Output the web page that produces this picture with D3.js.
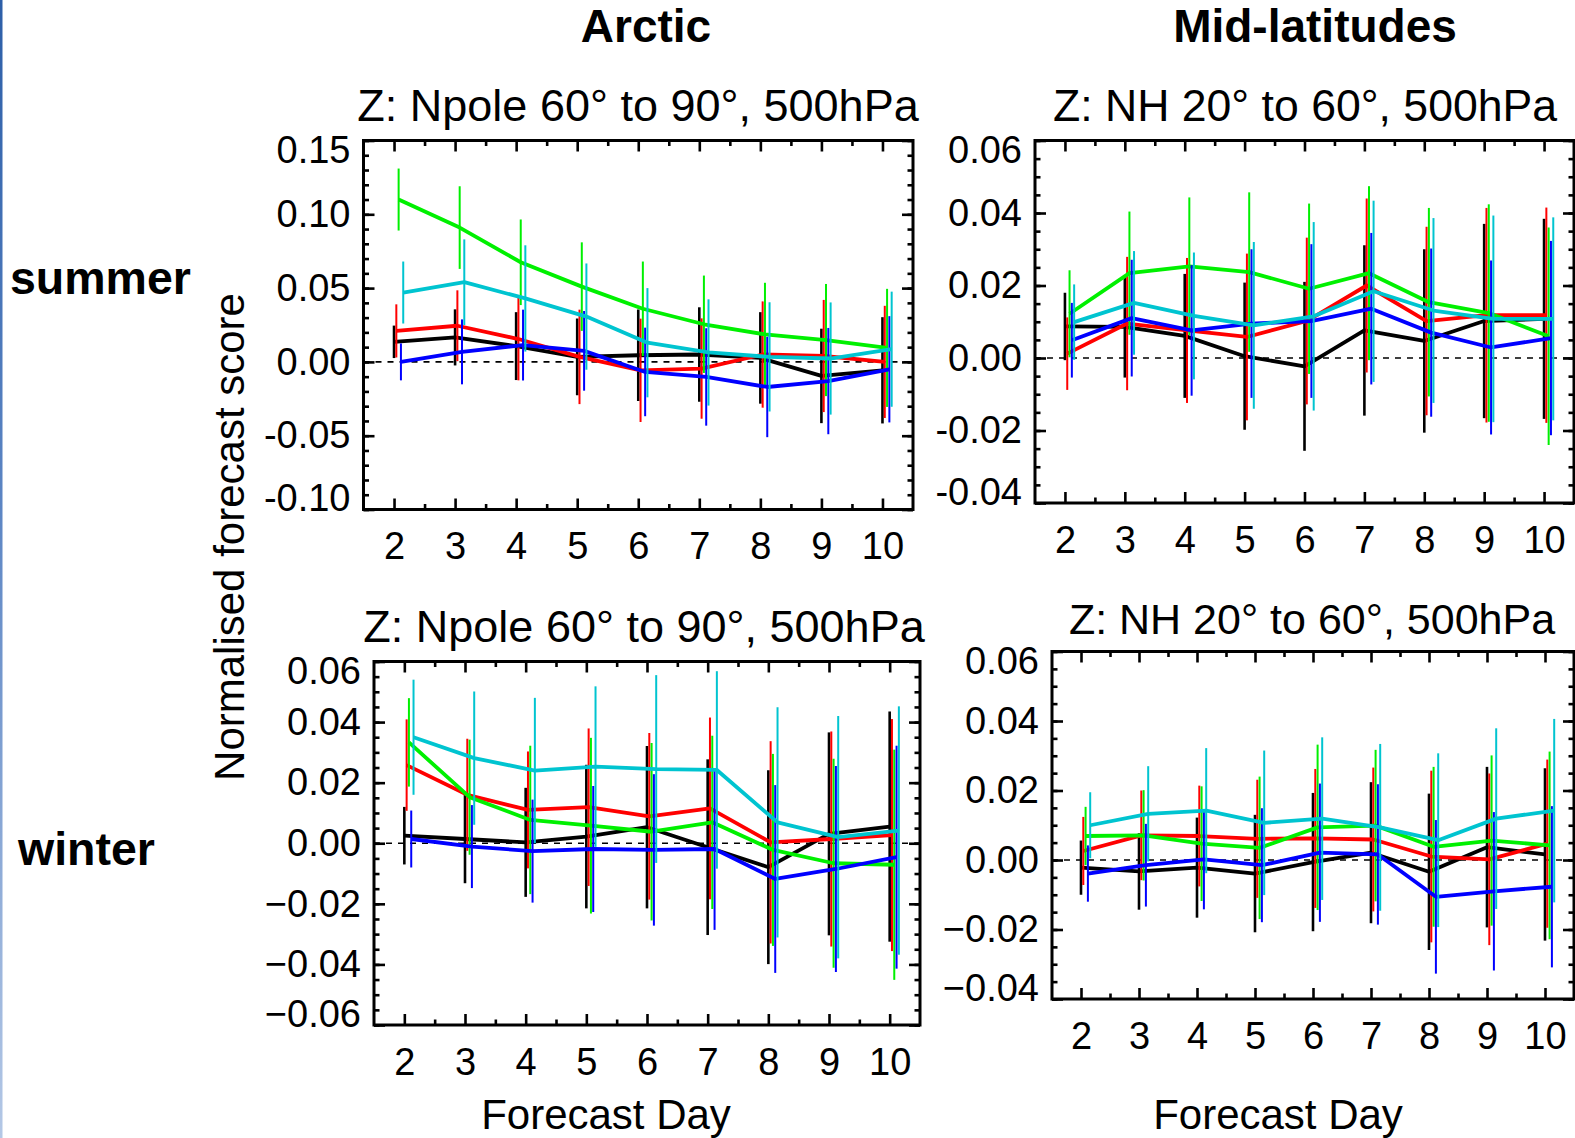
<!DOCTYPE html>
<html>
<head>
<meta charset="utf-8">
<script src="https://cdn.jsdelivr.net/npm/d3@7"></script>
<style>
  body { margin: 0; background: #fff; }
  svg { display: block; }
  text { font-family: 'Liberation Sans', Arial, Helvetica, sans-serif; fill: #000; }
</style>
</head>
<body>
<script>
var width = 1575,
    height = 1138;

// forecast days on the x axis
var days = [2, 3, 4, 5, 6, 7, 8, 9, 10];
var seriesColors = ['#000000', '#ff0000', '#00f000', '#0000ff', '#00c4d0'];

// rows: black, red, green, blue, cyan
var arcSumMean = [
    [0.0136, 0.0166, 0.0107, 0.0034, 0.0045, 0.0050, 0.0027, -0.0095, -0.0057],
    [0.0210, 0.0245, 0.0155, 0.0034, -0.0057, -0.0045, 0.0050, 0.0040, 0.0000],
    [0.1100, 0.0910, 0.0675, 0.0510, 0.0360, 0.0255, 0.0186, 0.0148, 0.0095],
    [0.0000, 0.0068, 0.0114, 0.0075, -0.0068, -0.0102, -0.0170, -0.0130, -0.0050],
    [0.0470, 0.0540, 0.0430, 0.0307, 0.0130, 0.0064, 0.0034, 0.0023, 0.0086]
];
var arcSumErr = [
    [0.011, 0.019, 0.023, 0.026, 0.031, 0.032, 0.031, 0.032, 0.036],
    [0.018, 0.024, 0.028, 0.032, 0.035, 0.034, 0.036, 0.038, 0.038],
    [0.021, 0.028, 0.029, 0.030, 0.032, 0.033, 0.035, 0.038, 0.040],
    [0.0125, 0.022, 0.024, 0.027, 0.030, 0.033, 0.034, 0.036, 0.036],
    [0.021, 0.029, 0.036, 0.036, 0.037, 0.036, 0.037, 0.038, 0.039]
];

var midSumMean = [
    [0.0087, 0.0086, 0.0061, 0.0005, -0.0023, 0.0076, 0.0047, 0.0102, 0.0108],
    [0.0012, 0.0095, 0.0076, 0.0058, 0.0102, 0.0200, 0.0102, 0.0118, 0.0118],
    [0.0122, 0.0234, 0.0253, 0.0237, 0.0191, 0.0234, 0.0154, 0.0124, 0.0060],
    [0.0049, 0.0110, 0.0076, 0.0095, 0.0102, 0.0136, 0.0070, 0.0029, 0.0055],
    [0.0099, 0.0152, 0.0116, 0.0090, 0.0115, 0.0184, 0.0131, 0.0108, 0.0108]
];
var midSumErr = [
    [0.0093, 0.0140, 0.0171, 0.0203, 0.0233, 0.0235, 0.0253, 0.0268, 0.0276],
    [0.0100, 0.0184, 0.0200, 0.0230, 0.0230, 0.0240, 0.0260, 0.0296, 0.0297],
    [0.0120, 0.0170, 0.0190, 0.0220, 0.0235, 0.0240, 0.0260, 0.0300, 0.0300],
    [0.0103, 0.0161, 0.0180, 0.0205, 0.0212, 0.0209, 0.0232, 0.0240, 0.0268],
    [0.0104, 0.0143, 0.0175, 0.0230, 0.0260, 0.0250, 0.0255, 0.0285, 0.0280]
];

var arcWinMean = [
    [0.0025, 0.0014, 0.0003, 0.0022, 0.0053, -0.0013, -0.0079, 0.0031, 0.0055],
    [0.0258, 0.0160, 0.0110, 0.0119, 0.0089, 0.0115, 0.0003, 0.0014, 0.0027],
    [0.0333, 0.0152, 0.0077, 0.0058, 0.0038, 0.0069, -0.0022, -0.0066, -0.0071],
    [0.0014, -0.0011, -0.0026, -0.0019, -0.0022, -0.0019, -0.0118, -0.0085, -0.0046],
    [0.0350, 0.0281, 0.0240, 0.0253, 0.0245, 0.0242, 0.0069, 0.0020, 0.0042]
];
var arcWinErr = [
    [0.0095, 0.0146, 0.0180, 0.0237, 0.0268, 0.0290, 0.0320, 0.0335, 0.0380],
    [0.0151, 0.0185, 0.0193, 0.0260, 0.0275, 0.0300, 0.0334, 0.0355, 0.0383],
    [0.0146, 0.0190, 0.0245, 0.0290, 0.0293, 0.0286, 0.0317, 0.0345, 0.0380],
    [0.0094, 0.0137, 0.0170, 0.0208, 0.0250, 0.0267, 0.0310, 0.0340, 0.0368],
    [0.0190, 0.0220, 0.0240, 0.0265, 0.0310, 0.0326, 0.0380, 0.0400, 0.0410]
];

var midWinMean = [
    [-0.0022, -0.0033, -0.0022, -0.0039, -0.0006, 0.0021, -0.0034, 0.0037, 0.0016],
    [0.0026, 0.0071, 0.0069, 0.0061, 0.0062, 0.0059, 0.0010, 0.0002, 0.0047],
    [0.0069, 0.0071, 0.0047, 0.0035, 0.0094, 0.0099, 0.0038, 0.0056, 0.0042],
    [-0.0039, -0.0015, 0.0002, -0.0015, 0.0021, 0.0016, -0.0106, -0.0090, -0.0077],
    [0.0100, 0.0133, 0.0142, 0.0107, 0.0119, 0.0094, 0.0057, 0.0119, 0.0142]
];
var midWinErr = [
    [0.0078, 0.0110, 0.0144, 0.0169, 0.0199, 0.0203, 0.0225, 0.0231, 0.0248],
    [0.0098, 0.0129, 0.0145, 0.0170, 0.0200, 0.0207, 0.0247, 0.0247, 0.0242],
    [0.0084, 0.0130, 0.0165, 0.0205, 0.0238, 0.0218, 0.0230, 0.0245, 0.0270],
    [0.0081, 0.0119, 0.0144, 0.0164, 0.0199, 0.0202, 0.0221, 0.0228, 0.0232],
    [0.0095, 0.0137, 0.0180, 0.0208, 0.0234, 0.0240, 0.0250, 0.0260, 0.0264]
];

var arcSumTicks = [-0.10, -0.05, 0.00, 0.05, 0.10, 0.15];
var midSumTicks = [-0.04, -0.02, 0.00, 0.02, 0.04, 0.06];
var arcWinTicks = [-0.06, -0.04, -0.02, 0.00, 0.02, 0.04, 0.06];
var midWinTicks = [-0.04, -0.02, 0.00, 0.02, 0.04, 0.06];

var panels = [
    {mean: arcSumMean, err: arcSumErr, ticks: arcSumTicks, minor: 0.01, minus: '-',
     box: [363.5, 140.5, 913, 509.5], title: 'Z: Npole 60\u00b0 to 90\u00b0, 500hPa', tx: 638, ty: 121, ts: 45},
    {mean: midSumMean, err: midSumErr, ticks: midSumTicks, minor: 0.005, minus: '-',
     box: [1035, 140.5, 1574, 503], title: 'Z: NH 20\u00b0 to 60\u00b0, 500hPa', tx: 1305, ty: 121, ts: 44.6},
    {mean: arcWinMean, err: arcWinErr, ticks: arcWinTicks, minor: 0.005, minus: '\u2212',
     box: [374, 661.5, 920, 1025], title: 'Z: Npole 60\u00b0 to 90\u00b0, 500hPa', tx: 644, ty: 642, ts: 45},
    {mean: midWinMean, err: midWinErr, ticks: midWinTicks, minor: 0.005, minus: '\u2212',
     box: [1052, 651.5, 1574, 999], title: 'Z: NH 20\u00b0 to 60\u00b0, 500hPa', tx: 1312, ty: 634, ts: 43}
];

var svg = d3.select('body').append('svg')
    .attr('width', width)
    .attr('height', height);

svg.append('rect').attr('width', width).attr('height', height).attr('fill', '#fff');

// thin blue strip at the left edge of the original slide
var grad = svg.append('defs').append('linearGradient')
    .attr('id', 'edge').attr('x1', 0).attr('y1', 0).attr('x2', 0).attr('y2', 1);
grad.append('stop').attr('offset', '0').attr('stop-color', '#2d5fa8');
grad.append('stop').attr('offset', '0.45').attr('stop-color', '#5d86c4');
grad.append('stop').attr('offset', '1').attr('stop-color', '#b4c8e6');
svg.append('rect').attr('x', 0).attr('y', 0).attr('width', 2.5).attr('height', height)
    .attr('fill', 'url(#edge)');

panels.forEach(function(p) {
    var left = p.box[0], top = p.box[1], right = p.box[2], bottom = p.box[3];
    var lo = d3.min(p.ticks), hi = d3.max(p.ticks);

    var x = d3.scaleLinear().domain([1.5, 10.5]).range([left, right]);
    var y = d3.scaleLinear().domain([lo, hi]).range([bottom, top]);

    var fmt = function(d) {
        var s = d3.format('.2f')(Math.abs(d));
        return d < -1e-9 ? p.minus + s : s;
    };
    var minorTicks = d3.range(Math.round((hi - lo) / p.minor) + 1).map(function(i) { return lo + i * p.minor; });
    var minorDays = d3.range(2.5, 10, 1);

    var g = svg.append('g');

    // zero line
    g.append('line')
        .attr('x1', left).attr('x2', right)
        .attr('y1', y(0)).attr('y2', y(0))
        .attr('stroke', '#000').attr('stroke-width', 1.6)
        .attr('stroke-dasharray', '6,6');

    // error bars and lines, series by series
    p.mean.forEach(function(row, s) {
        var off = s * 2.3;
        g.append('g').selectAll('line')
            .data(row)
            .enter().append('line')
            .attr('x1', function(d, i) { return x(days[i]) + off; })
            .attr('x2', function(d, i) { return x(days[i]) + off; })
            .attr('y1', function(d, i) { return y(d - p.err[s][i]); })
            .attr('y2', function(d, i) { return y(d + p.err[s][i]); })
            .attr('stroke', seriesColors[s])
            .attr('stroke-width', s === 0 ? 2.6 : 2);

        g.append('path')
            .datum(row)
            .attr('d', d3.line()
                .x(function(d, i) { return x(days[i]) + off; })
                .y(function(d) { return y(d); }))
            .attr('fill', 'none')
            .attr('stroke', seriesColors[s])
            .attr('stroke-width', 3.8)
            .attr('stroke-linejoin', 'round');
    });

    // axes: major and minor ticks on all four sides, pointing inward
    function styleAxis(a) {
        a.select('.domain').remove();
        a.selectAll('.tick line').attr('stroke', '#000').attr('stroke-width', 2.6);
        a.attr('font-family', null).attr('font-size', null);
    }

    var yl = g.append('g').attr('transform', 'translate(' + left + ',0)')
        .call(d3.axisLeft(y).tickValues(p.ticks).tickSize(-11).tickPadding(13).tickFormat(fmt));
    styleAxis(yl);
    yl.selectAll('.tick text')
        .style('font-size', '38px')
        .attr('transform', function(d) {
            if (d === hi) return 'translate(0,10)';
            if (d === lo) return 'translate(0,-11)';
            return null;
        });
    styleAxis(g.append('g').attr('transform', 'translate(' + left + ',0)')
        .call(d3.axisLeft(y).tickValues(minorTicks).tickSize(-5.5).tickFormat('')));
    styleAxis(g.append('g').attr('transform', 'translate(' + right + ',0)')
        .call(d3.axisRight(y).tickValues(p.ticks).tickSize(-11).tickFormat('')));
    styleAxis(g.append('g').attr('transform', 'translate(' + right + ',0)')
        .call(d3.axisRight(y).tickValues(minorTicks).tickSize(-5.5).tickFormat('')));

    var xb = g.append('g').attr('transform', 'translate(0,' + bottom + ')')
        .call(d3.axisBottom(x).tickValues(days).tickSize(-11).tickPadding(23).tickFormat(d3.format('d')));
    styleAxis(xb);
    xb.selectAll('.tick text').style('font-size', '38px');
    styleAxis(g.append('g').attr('transform', 'translate(0,' + bottom + ')')
        .call(d3.axisBottom(x).tickValues(minorDays).tickSize(-5.5).tickFormat('')));
    styleAxis(g.append('g').attr('transform', 'translate(0,' + top + ')')
        .call(d3.axisTop(x).tickValues(days).tickSize(-11).tickFormat('')));
    styleAxis(g.append('g').attr('transform', 'translate(0,' + top + ')')
        .call(d3.axisTop(x).tickValues(minorDays).tickSize(-5.5).tickFormat('')));

    // frame
    g.append('rect')
        .attr('x', left).attr('y', top)
        .attr('width', right - left).attr('height', bottom - top)
        .attr('fill', 'none').attr('stroke', '#000').attr('stroke-width', 3);

    // panel title
    svg.append('text')
        .attr('x', p.tx).attr('y', p.ty)
        .attr('text-anchor', 'middle')
        .style('font-size', p.ts + 'px')
        .text(p.title);
});

// column and row headings
svg.append('text').attr('x', 646).attr('y', 42).attr('text-anchor', 'middle')
    .style('font-size', '46px').style('font-weight', 'bold').text('Arctic');
svg.append('text').attr('x', 1315).attr('y', 42).attr('text-anchor', 'middle')
    .style('font-size', '46px').style('font-weight', 'bold').text('Mid-latitudes');
svg.append('text').attr('x', 10).attr('y', 294)
    .style('font-size', '46.5px').style('font-weight', 'bold').text('summer');
svg.append('text').attr('x', 18).attr('y', 865)
    .style('font-size', '46.5px').style('font-weight', 'bold').text('winter');

// axis titles
svg.append('text')
    .attr('transform', 'translate(244,537) rotate(-90)')
    .attr('text-anchor', 'middle')
    .style('font-size', '42px')
    .text('Normalised forecast score');
svg.append('text').attr('x', 606).attr('y', 1129).attr('text-anchor', 'middle')
    .style('font-size', '42px').text('Forecast Day');
svg.append('text').attr('x', 1278).attr('y', 1129).attr('text-anchor', 'middle')
    .style('font-size', '42px').text('Forecast Day');
</script>
</body>
</html>
